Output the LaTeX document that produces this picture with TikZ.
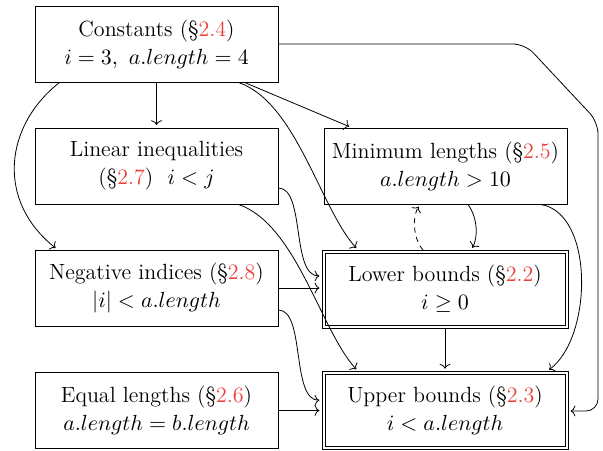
\documentclass[tikz,border=0pt]{standalone}
\usetikzlibrary{calc,arrows.meta}
\definecolor{secred}{RGB}{232,64,58}
\newcommand{\sref}[1]{\textcolor{secred}{#1}}
\begin{document}
\begin{tikzpicture}[x=0.5pt,y=-0.5pt,
  box/.style={draw, minimum width=121.5pt, minimum height=38pt, inner sep=0pt,
    align=center, font=\fontsize{11}{14}\selectfont},
  dbox/.style={box, minimum width=120pt, minimum height=36pt, outer sep=1.5pt},
  frame/.style={draw},
  arr/.style={-{To[length=2.4pt,width=5.4pt]}, shorten >=1.3pt},
  dsh/.style={arr, dash pattern=on 2.6pt off 2.2pt}]
\useasboundingbox (0,0) rectangle (603,450);
\node[box] (c) at (156.5,44) {Constants (\S\sref{2.4})\\$i = 3,\ a.length = 4$};
\node[box] (li) at (156.5,166) {Linear inequalities\\(\S\sref{2.7})\ \ $i < j$};
\node[box] (mn) at (445.5,166) {Minimum lengths (\S\sref{2.5})\\$a.length > 10$};
\node[box] (ni) at (156.5,288) {Negative indices (\S\sref{2.8})\\$|i| < a.length$};
\node[box] (eq) at (156.5,410.5) {Equal lengths (\S\sref{2.6})\\$a.length = b.length$};
\node[dbox] (lb) at (445,289) {Lower bounds (\S\sref{2.2})\\$i \geq 0$};
\node[dbox] (up) at (445,410.3) {Upper bounds (\S\sref{2.3})\\$i < a.length$};
\draw[frame] (lb.north west) rectangle (lb.south east);
\draw[frame] (up.north west) rectangle (up.south east);
\coordinate (k1) at (525,44);
\coordinate (k2) at (598,122);
\coordinate (k3) at (598,411);
% from Constants
\draw[arr] (c.south) -- (li.north);
\draw[arr] ($(c.south west)+(25,0)$) .. controls +(-55,43) and +(-62,-49) .. ($(ni.north west)+(23,0)$);
\draw[arr] ($(c.south east)+(-34,0)$) -- ($(mn.north west)+(28,0)$);
\draw[arr] ($(c.south east)+(-40,0)$) .. controls +(58,20) and +(-38,-42) .. ($(lb.north west)+(36,0)$);
\draw[arr, rounded corners=6pt] (c.east) -- (k1) -- (k2) -- (k3) -- (k3 -| up.east);
% from Linear inequalities
\draw[arr] ($(li.east)+(0,22)$) .. controls +(27,0) and +(-31,0) .. ($(lb.west)+(0,-13)$);
\draw[arr] ($(li.south east)+(-40,0)$) .. controls +(58,20) and +(-38,-42) .. ($(up.north west)+(36,0)$);
% from Negative indices
\draw[arr] (ni.east) -- (ni.east -| lb.west);
\draw[arr] ($(ni.east)+(0,22)$) .. controls +(27,0) and +(-31,0) .. ($(up.west)+(0,-10)$);
% from Equal lengths
\draw[arr] (eq.east) -- (eq.east -| up.west);
% Minimum lengths
\draw[arr] ($(mn.south)+(22.5,0)$) .. controls +(10,14) and +(7,-12) .. ($(lb.north)+(26,0)$);
\draw[dsh] ($(lb.north)+(-22,0)$) .. controls +(-11,-13) and +(-7,11) .. ($(mn.south)+(-25.5,0)$);
\draw[arr] ($(mn.south east)+(-27,0)$) .. controls +(54,8) and +(46,-34) .. ($(up.north east)+(-21,0)$);
% Lower to Upper
\draw[arr] (lb.south) -- (up.north);
\end{tikzpicture}
\end{document}
